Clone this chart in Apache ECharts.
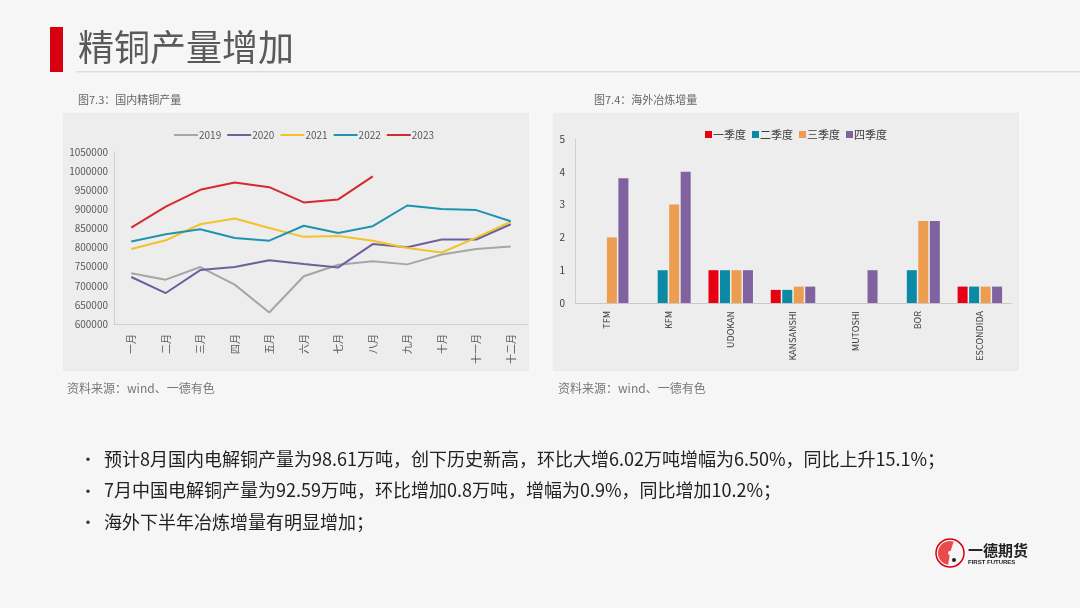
<!DOCTYPE html>
<html>
<head>
<meta charset="utf-8">
<script src="https://cdn.jsdelivr.net/npm/echarts@6/dist/echarts.min.js"></script>
<style>
  html, body { margin: 0; padding: 0; background: #f6f6f6; }
  #main { width: 1080px; height: 608px; }
</style>
</head>
<body>
<div id="main"></div>
<script>
// left chart: 国内精铜产量
const months = ["一月", "二月", "三月", "四月", "五月", "六月", "七月", "八月", "九月", "十月", "十一月", "十二月"];
const y2019 = [733000, 716000, 749000, 703000, 630000, 725000, 755000, 764000, 756000, 782000, 796000, 803000];
const y2020 = [723000, 681000, 741000, 749000, 767000, 757000, 748000, 809000, 801000, 821000, 821000, 861000];
const y2021 = [796000, 819000, 861000, 876000, 851000, 828000, 830000, 818000, 799000, 787000, 826000, 868000];
const y2022 = [816000, 835000, 848000, 825000, 818000, 857000, 838000, 856000, 910000, 901000, 898000, 869000];
const y2023 = [852000, 907000, 951000, 970000, 958000, 918000, 926000, 986100];

// right chart: 海外冶炼增量
const mines = ["TFM", "KFM", "UDOKAN", "KANSANSHI", "MUTOSHI", "BOR", "ESCONDIDA"];
const q1 = [0, 0, 1, 0.4, 0, 0, 0.5];
const q2 = [0, 1, 1, 0.4, 0, 1, 0.5];
const q3 = [2, 3, 1, 0.5, 0, 2.5, 0.5];
const q4 = [3.8, 4, 1, 0.5, 1, 2.5, 0.5];

const bullets = [
  "预计8月国内电解铜产量为98.61万吨，创下历史新高，环比大增6.02万吨增幅为6.50%，同比上升15.1%；",
  "7月中国电解铜产量为92.59万吨，环比增加0.8万吨，增幅为0.9%，同比增加10.2%；",
  "海外下半年冶炼增量有明显增加；"
];

const font = "'Microsoft YaHei', 'Noto Sans CJK SC', sans-serif";
const chart = echarts.init(document.getElementById("main"));

const lineSeries = (name, data, color) => ({
  name: name,
  type: "line",
  xAxisIndex: 0,
  yAxisIndex: 0,
  symbol: "none",
  data: data,
  lineStyle: { color: color, width: 2 },
  itemStyle: { color: color }
});

const barSeries = (name, data, color) => ({
  name: name,
  type: "bar",
  xAxisIndex: 1,
  yAxisIndex: 1,
  data: data,
  barWidth: 10,
  barGap: "15%",
  itemStyle: { color: color }
});

const graphics = [
  // title
  { type: "rect", shape: { x: 50, y: 27, width: 13, height: 45 }, style: { fill: "#d7000f" } },
  { type: "text", x: 78, y: 29, style: { text: "精铜产量增加", font: "36px " + font, fill: "#5a5a5a" } },
  { type: "rect", shape: { x: 76, y: 71, width: 1004, height: 1.5 }, style: { fill: "#dddddd" } },
  // panels
  { type: "rect", z: -10, shape: { x: 62, y: 112, width: 468, height: 260 }, style: { fill: "#ededed", stroke: "#fbfbfb", lineWidth: 1 } },
  { type: "rect", z: -10, shape: { x: 552, y: 112, width: 468, height: 260 }, style: { fill: "#ededed", stroke: "#fbfbfb", lineWidth: 1 } },
  // captions
  { type: "text", x: 78, y: 94, style: { text: "图7.3：国内精铜产量", font: "11px " + font, fill: "#666666" } },
  { type: "text", x: 594, y: 94, style: { text: "图7.4：海外冶炼增量", font: "11px " + font, fill: "#666666" } },
  { type: "text", x: 67, y: 382, style: { text: "资料来源：wind、一德有色", font: "12px " + font, fill: "#777777" } },
  { type: "text", x: 558, y: 382, style: { text: "资料来源：wind、一德有色", font: "12px " + font, fill: "#777777" } },
  // logo
  { type: "circle", shape: { cx: 950, cy: 553, r: 14 }, style: { fill: "none", stroke: "#d7000f", lineWidth: 1.5 } },
  { type: "sector", shape: { cx: 950, cy: 553, r: 12, r0: 2, startAngle: Math.PI * 0.55, endAngle: Math.PI * 1.6 }, style: { fill: "#e94b4b" } },
  { type: "circle", shape: { cx: 954, cy: 560, r: 2 }, style: { fill: "#222222" } },
  { type: "text", x: 968, y: 543, style: { text: "一德期货", font: "bold 15px " + font, fill: "#222222" } },
  { type: "text", x: 968, y: 559, style: { text: "FIRST FUTURES", font: "bold 6px sans-serif", fill: "#222222" } }
];

bullets.forEach((t, i) => {
  const y = 450 + i * 31.5;
  graphics.push({ type: "text", x: 80, y: y + 1, style: { text: "•", font: "16px " + font, fill: "#333333" } });
  graphics.push({ type: "text", x: 104, y: y, style: { text: t, font: "18px " + font, fill: "#222222" } });
});

chart.setOption({
  backgroundColor: "#f6f6f6",
  textStyle: { fontFamily: font },
  animation: false,
  graphic: graphics,
  legend: [
    {
      data: ["2019", "2020", "2021", "2022", "2023"],
      left: 169, top: 125,
      icon: "rect", itemWidth: 24, itemHeight: 2, itemGap: 6,
      textStyle: { fontSize: 10, color: "#595959", padding: [0, 0, 0, -4] }
    },
    {
      data: ["一季度", "二季度", "三季度", "四季度"],
      left: 700, top: 124,
      icon: "rect", itemWidth: 7, itemHeight: 7, itemGap: 6,
      textStyle: { fontSize: 11, color: "#404040", padding: [0, 0, 0, -4] }
    }
  ],
  grid: [
    { left: 114, top: 152, width: 414, height: 172 },
    { left: 575, top: 139, width: 436, height: 164 }
  ],
  xAxis: [
    {
      type: "category", gridIndex: 0, data: months,
      axisLine: { lineStyle: { color: "#d0d0d0" } },
      axisTick: { show: false },
      axisLabel: { rotate: 90, fontSize: 10, color: "#595959", margin: 10 }
    },
    {
      type: "category", gridIndex: 1, data: mines,
      axisLine: { lineStyle: { color: "#c8c8c8" } },
      axisTick: { show: false },
      axisLabel: { rotate: 90, fontSize: 9, color: "#404040", margin: 8 }
    }
  ],
  yAxis: [
    {
      type: "value", gridIndex: 0, min: 600000, max: 1050000, interval: 50000,
      axisLine: { show: true, lineStyle: { color: "#d0d0d0" } },
      splitLine: { show: false },
      axisLabel: { fontSize: 10, color: "#595959", margin: 6, formatter: (v) => String(v) }
    },
    {
      type: "value", gridIndex: 1, min: 0, max: 5, interval: 1,
      axisLine: { show: true, lineStyle: { color: "#d0d0d0" } },
      splitLine: { show: false },
      axisLabel: { fontSize: 10, color: "#404040", margin: 10 }
    }
  ],
  series: [
    lineSeries("2019", y2019, "#a6a6a6"),
    lineSeries("2020", y2020, "#6e5f9d"),
    lineSeries("2021", y2021, "#f5c12a"),
    lineSeries("2022", y2022, "#1f93b0"),
    lineSeries("2023", y2023, "#d52a2f"),
    barSeries("一季度", q1, "#e60012"),
    barSeries("二季度", q2, "#0b8aa6"),
    barSeries("三季度", q3, "#ec9d4f"),
    barSeries("四季度", q4, "#8062a0")
  ]
});
</script>
</body>
</html>
